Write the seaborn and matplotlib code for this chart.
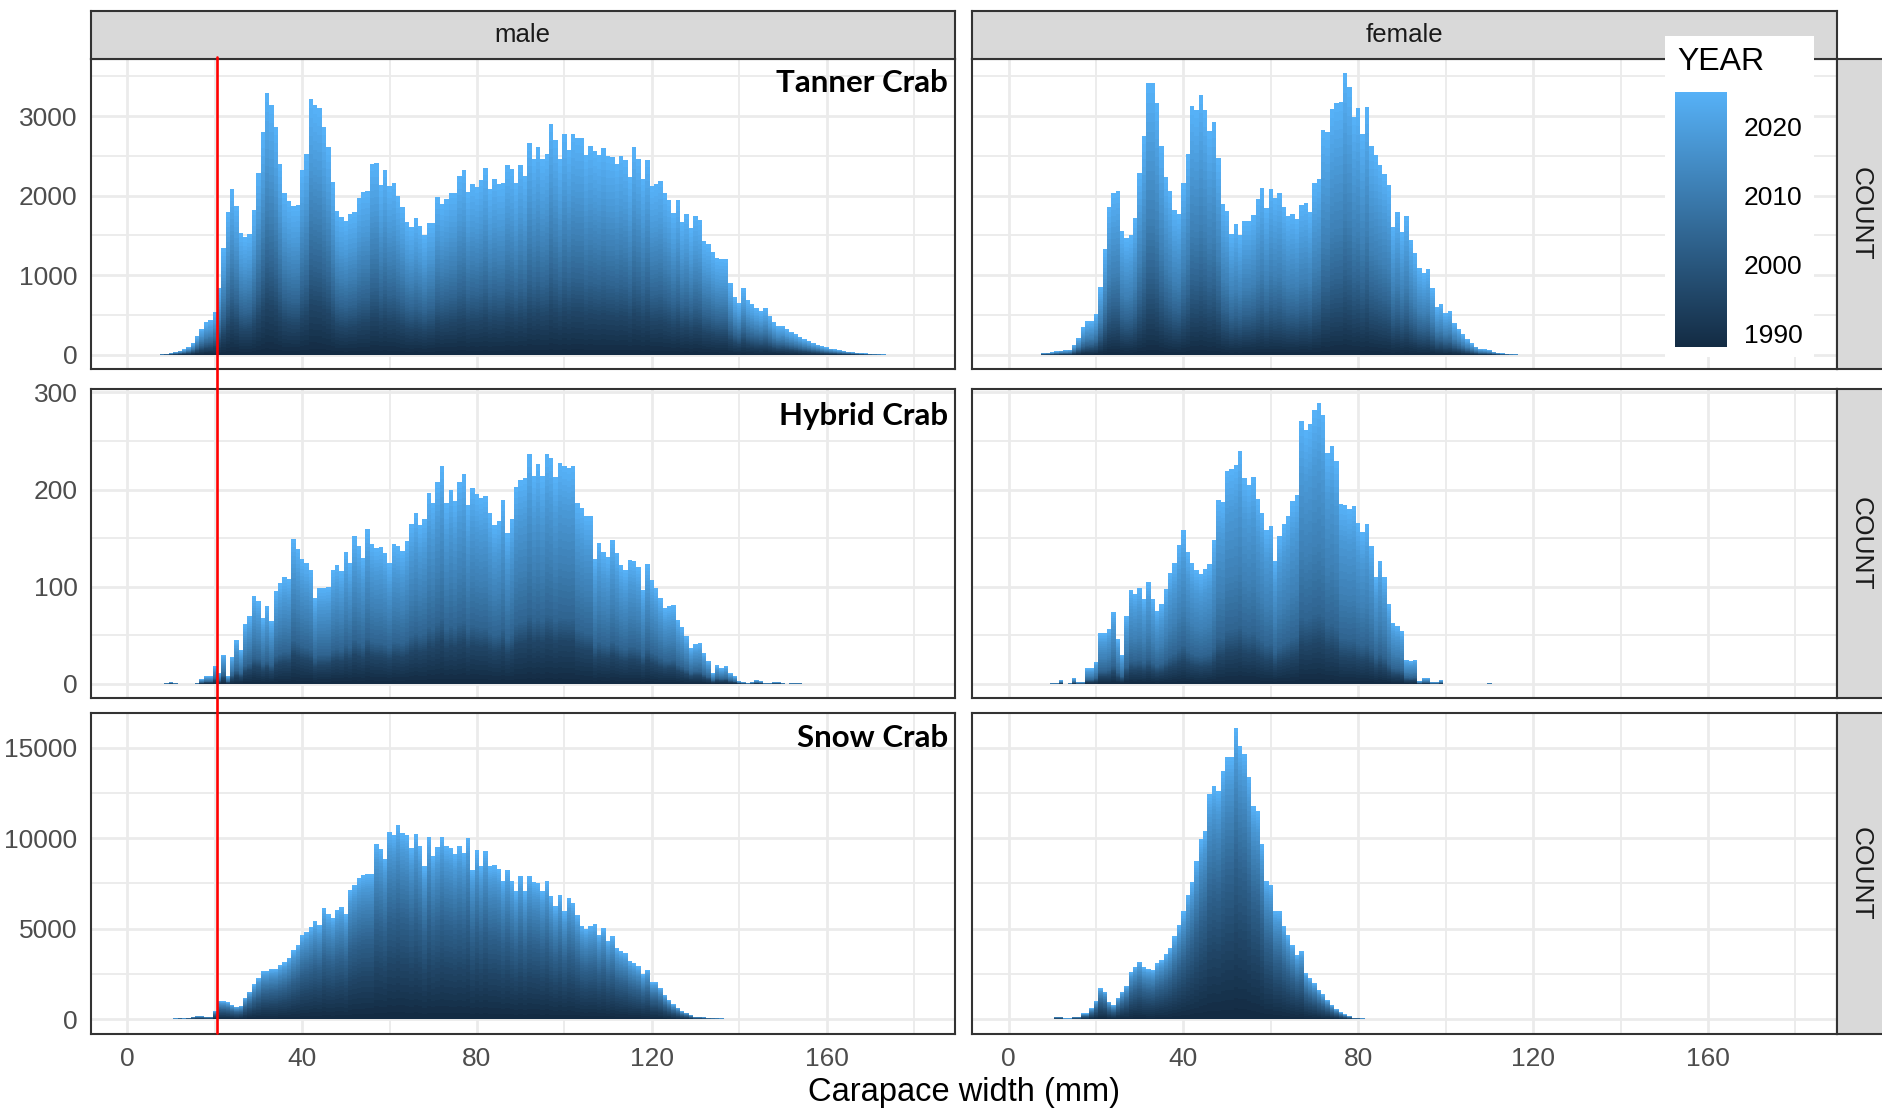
import numpy as np
import pandas as pd
import matplotlib
matplotlib.use("Agg")
import matplotlib.pyplot as plt
import seaborn as sns
from matplotlib.colors import LinearSegmentedColormap, Normalize
from matplotlib.transforms import blended_transform_factory
from matplotlib.lines import Line2D
from matplotlib.patches import Rectangle
from matplotlib.cm import ScalarMappable

sns.set_style("white")
plt.rcParams['font.family'] = ['Liberation Sans', 'DejaVu Sans']

# ---------------- data ----------------
species = ["Tanner Crab", "Hybrid Crab", "Snow Crab"]
sexes = ["male", "female"]
years = list(range(1988, 2026))
year_groups = [(1988, 1995), (1996, 2003), (2004, 2011), (2012, 2018), (2019, 2025)]

# share of counts per year group (oldest first), estimated from the colour gradient
tanner_male_share = [0.20, 0.15, 0.20, 0.20, 0.25]
tanner_female_share = [0.15, 0.15, 0.20, 0.25, 0.25]
hybrid_male_share = [0.20, 0.10, 0.25, 0.25, 0.20]
hybrid_female_share = [0.15, 0.10, 0.25, 0.30, 0.20]
snow_male_share = [0.30, 0.25, 0.20, 0.15, 0.10]
snow_female_share = [0.30, 0.25, 0.20, 0.15, 0.10]

# counts per 1-mm carapace width bin, starting at the given width
tanner_male_start = 7
tanner_male_counts = [5, 10, 15, 25, 40, 55, 70, 100, 150, 240, 330, 410, 440, 540, 840, 1340, 1800, 2080, 1875, 1530,
                      1475, 1520, 1820, 2280, 2800, 3290, 3140, 2860, 2400, 2040, 1930, 1875, 1880, 2320, 2520, 3210,
                      3140, 3100, 2860, 2610, 2175, 1810, 1730, 1680, 1770, 1790, 1965, 2050, 2060, 2400, 2410, 2130,
                      2320, 2125, 2160, 1990, 1855, 1675, 1610, 1720, 1625, 1510, 1655, 1655, 1980, 1895, 1960, 2040,
                      2040, 2250, 2320, 2050, 2145, 2110, 2200, 2350, 2090, 2215, 2150, 2155, 2380, 2330, 2160, 2380,
                      2250, 2660, 2455, 2610, 2455, 2520, 2900, 2700, 2460, 2770, 2580, 2770, 2730, 2725, 2510, 2630,
                      2560, 2510, 2605, 2495, 2490, 2400, 2500, 2445, 2240, 2610, 2460, 2215, 2445, 2125, 2145, 2190,
                      2040, 1945, 1780, 1945, 1675, 1770, 1590, 1745, 1690, 1425, 1395, 1290, 1215, 1205, 1200, 905,
                      725, 655, 835, 690, 645, 590, 550, 590, 490, 410, 360, 365, 320, 290, 260, 230, 200, 175, 150,
                      130, 110, 95, 80, 70, 60, 50, 42, 35, 28, 22, 18, 14, 11, 9, 7, 5, 4, 3, 2, 1]

tanner_female_start = 8
tanner_female_counts = [25, 30, 35, 45, 55, 60, 65, 130, 215, 350, 420, 430, 515, 855, 1330, 1860, 2040, 2060, 1560,
                        1465, 1500, 1715, 2290, 2750, 3410, 3410, 3160, 2630, 2240, 2060, 1820, 1770, 2165, 2520, 3130,
                        3080, 3270, 3080, 2810, 2930, 2470, 1890, 1810, 1520, 1640, 1500, 1680, 1680, 1760, 1955, 2100,
                        1850, 2080, 1965, 2030, 1860, 1745, 1770, 1705, 1880, 1905, 1790, 2155, 2210, 2830, 2800, 3090,
                        3160, 3180, 3540, 3360, 2990, 3100, 2780, 3120, 2620, 2510, 2390, 2270, 2130, 1610, 1790, 1540,
                        1740, 1445, 1280, 1090, 1030, 1080, 835, 605, 640, 530, 550, 405, 330, 260, 195, 145, 105, 75,
                        70, 60, 40, 30, 20, 15, 10, 8, 5, 3, 2]

hybrid_male_start = 9
hybrid_male_counts = [1, 2, 1, 0, 0, 0, 0, 1, 5, 8, 8, 18, 11, 30, 8, 28, 45, 35, 62, 70, 91, 85, 68, 80, 65, 96, 104,
                      110, 108, 149, 139, 129, 124, 117, 88, 99, 99, 100, 117, 122, 116, 136, 124, 152, 142, 130, 159,
                      144, 140, 141, 135, 124, 144, 142, 137, 147, 165, 176, 164, 170, 196, 186, 208, 224, 186, 200,
                      188, 208, 216, 184, 202, 195, 191, 193, 176, 164, 168, 189, 155, 170, 203, 210, 212, 237, 214,
                      226, 214, 237, 232, 213, 227, 224, 222, 224, 186, 181, 173, 173, 129, 145, 136, 131, 148, 135,
                      122, 117, 128, 127, 120, 97, 123, 107, 99, 88, 78, 80, 81, 66, 59, 49, 37, 41, 42, 32, 24, 11,
                      19, 16, 18, 11, 8, 3, 2, 1, 2, 4, 3, 1, 1, 2, 2, 1, 0, 1, 1, 1]

hybrid_female_start = 10
hybrid_female_counts = [1, 1, 4, 0, 1, 6, 2, 2, 16, 16, 23, 52, 52, 57, 74, 46, 30, 70, 97, 93, 99, 87, 105, 87, 75,
                        82, 98, 114, 124, 143, 158, 136, 124, 117, 113, 118, 123, 148, 189, 187, 219, 221, 225, 240,
                        212, 205, 213, 190, 176, 158, 163, 126, 152, 165, 173, 188, 194, 271, 261, 267, 282, 289, 277,
                        238, 245, 229, 185, 184, 180, 183, 166, 156, 165, 142, 110, 127, 110, 82, 63, 60, 54, 25, 24,
                        25, 3, 6, 6, 2, 2, 4, 0, 0, 0, 0, 0, 0, 0, 0, 0, 0, 1]

snow_male_start = 11
snow_male_counts = [60, 90, 60, 100, 150, 185, 185, 150, 150, 460, 1015, 1000, 940, 800, 700, 750, 1200, 1530, 1940,
                    2270, 2675, 2690, 2785, 2800, 3000, 3150, 3410, 3840, 4110, 4670, 4850, 5090, 5440, 5220, 6140,
                    5810, 5590, 6050, 6180, 5810, 7120, 7440, 7800, 7990, 8030, 8050, 9650, 9410, 8870, 10350, 10170,
                    10720, 10260, 10150, 9460, 10240, 9560, 8450, 10060, 9000, 9500, 10060, 9560, 9460, 9130, 9560,
                    9200, 10020, 8270, 9320, 8450, 9280, 8450, 8510, 8300, 7620, 8270, 7620, 7070, 7900, 7070, 7900,
                    7580, 7530, 7070, 7620, 6790, 6240, 6850, 5960, 6700, 6420, 5780, 5180, 5000, 5180, 5260, 4670,
                    5040, 4340, 4580, 3930, 3780, 3650, 3250, 3100, 2920, 2490, 2730, 2050, 2050, 1750, 1350, 1070,
                    830, 650, 460, 370, 240, 150, 150, 120, 90, 80, 70, 60, 50, 40, 30, 20]

snow_female_start = 10
snow_female_counts = [20, 150, 150, 55, 55, 150, 150, 330, 330, 610, 1015, 1715, 1530, 980, 790, 1200, 1530, 1860,
                      2640, 2915, 3190, 2880, 2790, 2730, 3100, 3280, 3600, 3930, 4580, 5220, 5960, 6880, 7580, 8730,
                      9960, 10420, 12420, 12880, 12600, 13710, 14450, 14450, 16100, 15060, 14670, 13400, 11770, 11490,
                      9690, 7620, 7440, 6000, 5960, 5180, 4630, 4110, 3560, 3750, 2550, 2270, 1990, 1620, 1380, 1070,
                      790, 570, 390, 275, 185, 90, 90, 60, 40, 30, 20, 10, 5]

y_ticks = {"Tanner Crab": [0, 1000, 2000, 3000],
           "Hybrid Crab": [0, 100, 200, 300],
           "Snow Crab": [0, 5000, 10000, 15000]}
x_ticks = [0, 40, 80, 120, 160]
x_minor = [20, 60, 100, 140, 180]
legend_ticks = [1990, 2000, 2010, 2020]

panels = {
    ("Tanner Crab", "male"): (tanner_male_start, tanner_male_counts, tanner_male_share),
    ("Tanner Crab", "female"): (tanner_female_start, tanner_female_counts, tanner_female_share),
    ("Hybrid Crab", "male"): (hybrid_male_start, hybrid_male_counts, hybrid_male_share),
    ("Hybrid Crab", "female"): (hybrid_female_start, hybrid_female_counts, hybrid_female_share),
    ("Snow Crab", "male"): (snow_male_start, snow_male_counts, snow_male_share),
    ("Snow Crab", "female"): (snow_female_start, snow_female_counts, snow_female_share),
}


def year_weights(share):
    w = {}
    for (a, b), s in zip(year_groups, share):
        n = b - a + 1
        for y in range(a, b + 1):
            w[y] = s / n
    return w


def panel_frame(start, counts, share):
    w = year_weights(share)
    rows = []
    for i, c in enumerate(counts):
        for y in years:
            rows.append((start + i, str(y), c * w[y]))
    return pd.DataFrame(rows, columns=["width", "year", "count"])


# ---------------- style ----------------
W, H = 1882, 1112
fig = plt.figure(figsize=(W / 100, H / 100), dpi=100)
fig.patch.set_facecolor("white")

cmap = LinearSegmentedColormap.from_list("gg", ["#132B43", "#56B1F7"])
norm = Normalize(vmin=min(years), vmax=max(years))
palette = {str(y): cmap(norm(y)) for y in years}
hue_order = [str(y) for y in reversed(years)]


def rect(x0, y0, x1, y1):
    return [x0 / W, 1 - y1 / H, (x1 - x0) / W, (y1 - y0) / H]


col_x = {"male": (90.6, 955.0), "female": (971.8, 1836.5)}
row_y = {"Tanner Crab": (59.0, 369.0), "Hybrid Crab": (389.0, 698.0), "Snow Crab": (713.0, 1034.0)}
label_y_off = {"Tanner Crab": 24, "Hybrid Crab": 27, "Snow Crab": 25}

grid_c = "#EBEBEB"
dark = "#333333"
axes = {}
for sp in species:
    ymax = max(max(panels[(sp, sx)][1]) for sx in sexes)
    for sx in sexes:
        x0, x1 = col_x[sx]
        y0, y1 = row_y[sp]
        ax = fig.add_axes(rect(x0, y0, x1, y1))
        axes[(sp, sx)] = ax
        start, counts, share = panels[(sp, sx)]
        df = panel_frame(start, counts, share)
        sns.histplot(data=df, x="width", weights="count", hue="year", hue_order=hue_order,
                     palette=palette, multiple="stack", binwidth=1, binrange=(0.5, 180.5),
                     element="step", linewidth=0, alpha=1, legend=False, antialiased=False, ax=ax)
        ax.set_xlabel("")
        ax.set_ylabel("")
        ax.set_facecolor("white")
        ax.set_xticks(x_ticks)
        ax.set_xticks(x_minor, minor=True)
        yt = y_ticks[sp]
        ax.set_yticks(yt)
        ax.set_yticks([t + (yt[1] - yt[0]) / 2 for t in yt], minor=True)
        ax.set_xlim(-8.4, 189.4)
        ax.set_ylim(-0.05 * ymax, 1.05 * ymax)
        ax.grid(which="major", color=grid_c, lw=2.0)
        ax.grid(which="minor", color=grid_c, lw=1.3)
        ax.set_axisbelow(True)
        for s in ax.spines.values():
            s.set_color(dark)
            s.set_linewidth(1.5)
            s.set_zorder(5)
        ax.tick_params(which="minor", length=0)
        ax.tick_params(which="major", length=6, width=1.5, color=dark, labelsize=19,
                       labelcolor="#4D4D4D", pad=3.5)
        ax.set_xticklabels([str(t) for t in x_ticks])
        ax.set_yticklabels([str(t) for t in yt])
        if sp != "Snow Crab":
            ax.tick_params(labelbottom=False)
        if sx == "female":
            ax.tick_params(left=False, labelleft=False)
        else:
            ax.text(1 - 7 / (x1 - x0), 1 - label_y_off[sp] / (y1 - y0), sp, transform=ax.transAxes,
                    ha="right", va="center", fontsize=22.5, fontweight="bold",
                    family=["Lato", "DejaVu Sans"], color="black", zorder=6)

# top strips
for sx in sexes:
    x0, x1 = col_x[sx]
    sax = fig.add_axes(rect(x0, 10.7, x1, 59.0))
    sax.set_facecolor("#D9D9D9")
    sax.set_xticks([])
    sax.set_yticks([])
    for s in sax.spines.values():
        s.set_color(dark)
        s.set_linewidth(1.5)
    sax.text(0.5, 0.5, sx, ha="center", va="center", fontsize=18.5, color="#1A1A1A", transform=sax.transAxes)

# right strips
for sp in species:
    y0, y1 = row_y[sp]
    rax = fig.add_axes(rect(1836.5, y0, 1886.0, y1))
    rax.set_facecolor("#D9D9D9")
    rax.set_xticks([])
    rax.set_yticks([])
    for s in rax.spines.values():
        s.set_color(dark)
        s.set_linewidth(1.5)
    fig.text(1861 / W, 1 - ((y0 + y1) / 2) / H, "COUNT", rotation=-90, ha="center", va="center",
             fontsize=19, color="#1A1A1A")

# axis title
fig.text(964 / W, 1 - 1093 / H, "Carapace width (mm)", ha="center", va="center", fontsize=23.5, color="black")

# red reference line at 20.5 mm across the male column
trans = blended_transform_factory(axes[("Tanner Crab", "male")].transData, fig.transFigure)
fig.add_artist(Line2D([20.5, 20.5], [1 - 57 / H, 1 - 1033 / H], transform=trans, color="#FF0000", lw=1.9,
                      zorder=10))

# legend
bg = Rectangle((1665 / W, 1 - 357 / H), (1814 - 1665) / W, (357 - 36) / H, transform=fig.transFigure,
               facecolor="white", edgecolor="none", zorder=20)
fig.add_artist(bg)
fig.text(1677 / W, 1 - 62 / H, "YEAR", ha="left", va="center", fontsize=23, color="black", zorder=21)
cax = fig.add_axes(rect(1675, 92, 1727, 347))
cax.set_zorder(22)
cb = fig.colorbar(ScalarMappable(norm=norm, cmap=cmap), cax=cax)
cb.outline.set_visible(False)
cb.set_ticks(legend_ticks)
cb.set_ticklabels([str(t) for t in legend_ticks])
cax.tick_params(direction="in", length=7, width=1.3, color="white", left=True, right=True,
                labelsize=19, labelcolor="black", pad=12)

fig.savefig("out.png", dpi=100, facecolor="white")
